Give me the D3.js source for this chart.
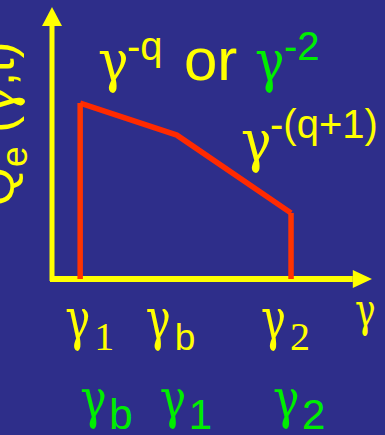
<!DOCTYPE html>
<html>
<head>
<meta charset="utf-8">
<script src="https://cdn.jsdelivr.net/npm/d3@7"></script>
<style>
  html, body { margin: 0; padding: 0; background: #2e2e8a; overflow: hidden; }
  svg { display: block; }
</style>
</head>
<body>
<div id="container"></div>
<script>
/* CONSTANTS AND GLOBALS */
const width = 385,
  height = 435;

const greek = "'DejaVu Serif', serif",
  serif = "'Liberation Serif', 'Times New Roman', serif",
  sans = "'Liberation Sans', Arial, sans-serif";

const YELLOW = "#ffff00",
  GREEN = "#00ee00",
  RED = "#ff2a00";

/* DATA */
// break energies of the electron spectrum (arbitrary units)
const breakNames = ["γ1", "γb", "γ2"];
const breakGamma = [8.8, 39, 74.7];
// injected spectrum Q_e at the breaks
const spectrumQ = [64.7, 52.9, 24.3];

// tick label rows: yellow = gamma1 < gammab, green = gammab < gamma1
const yellowSubs = ["1", "b", "2"];
const greenSubs = ["b", "1", "2"];

const spectrum = breakNames.map((n, i) => ({ name: n, g: breakGamma[i], q: spectrumQ[i] }));

// SCALES
const xScale = d3.scaleLinear().domain([0, 100]).range([52, 372]);
const yScale = d3.scaleLinear().domain([0, 100]).range([279, 7]);

// CREATE SVG ELEMENT
const svg = d3.select("#container")
  .append("svg")
  .attr("width", width)
  .attr("height", height)
  .style("background-color", "#2e2e8a");

// AXES (plain arrows, no ticks)
const axes = svg.append("g");
axes.append("line")
  .attr("x1", xScale(0) - 2).attr("x2", xScale(94))
  .attr("y1", yScale(0)).attr("y2", yScale(0))
  .attr("stroke", YELLOW).attr("stroke-width", 6);
axes.append("path")
  .attr("d", `M${xScale(94)},${yScale(0) - 9} L${xScale(100)},${yScale(0)} L${xScale(94)},${yScale(0) + 9}Z`)
  .attr("fill", YELLOW);

axes.append("line")
  .attr("x1", xScale(0)).attr("x2", xScale(0))
  .attr("y1", yScale(0) + 2).attr("y2", yScale(93))
  .attr("stroke", YELLOW).attr("stroke-width", 5);
axes.append("path")
  .attr("d", `M${xScale(0) - 10},${yScale(93)} L${xScale(0)},${yScale(100)} L${xScale(0) + 10},${yScale(93)}Z`)
  .attr("fill", YELLOW);

// DRAW SPECTRUM
const drawLine = d3.line()
  .x(d => xScale(d.g))
  .y(d => yScale(d.q));

svg.append("path")
  .datum(spectrum)
  .attr("fill", "none")
  .attr("stroke", RED)
  .attr("stroke-width", 5.5)
  .attr("d", drawLine);

// cut-offs at gamma1 and gamma2
svg.selectAll(".cutoff")
  .data([spectrum[0], spectrum[spectrum.length - 1]])
  .join("line")
  .attr("class", "cutoff")
  .attr("x1", d => xScale(d.g)).attr("x2", d => xScale(d.g))
  .attr("y1", yScale(0)).attr("y2", d => yScale(d.q))
  .attr("stroke", "#ff3300")
  .attr("stroke-width", 5.5);

// a narrowed gamma glyph (the original uses a condensed Symbol-like gamma)
function gamma(g, x, y, color, size, sx) {
  return g.append("text")
    .attr("transform", `translate(${x},${y}) scale(${sx},1)`)
    .attr("fill", color)
    .attr("font-family", greek).attr("font-size", size)
    .text("γ");
}

// helper: gamma followed by a sub/superscript
function gammaLabel(g, x, y, color, gSize, sx, txt, tSize, tFont, dy) {
  gamma(g, x - 2, y, color, gSize, sx);
  g.append("text")
    .attr("x", x + 27).attr("y", y + dy)
    .attr("fill", color)
    .attr("font-family", tFont).attr("font-size", tSize)
    .text(txt);
}

// TICK LABELS
const ticks = svg.append("g");
const yellowDx = [-13, -29, -28];
yellowSubs.forEach((s, i) => {
  gammaLabel(ticks, xScale(breakGamma[i]) + yellowDx[i], 339, YELLOW, 58, 0.72, s,
    s === "b" ? 37 : 40, s === "b" ? sans : serif, 11);
});
const greenDx = [2, -15, -16];
greenSubs.forEach((s, i) => {
  gammaLabel(ticks, xScale(breakGamma[i]) + greenDx[i], 418, GREEN, 54, 0.82, s, 42, sans, 11);
});

// axis titles
gamma(svg, 355, 326, YELLOW, 46, 0.75);

const yTitle = svg.append("text")
  .attr("transform", "translate(14,206) rotate(-90)")
  .attr("fill", YELLOW)
  .attr("font-family", sans).attr("font-size", 50);
yTitle.append("tspan").text("Q");
yTitle.append("tspan").attr("font-size", 37).attr("dy", 13).text("e");
yTitle.append("tspan").attr("dy", -13).text(" (");
yTitle.append("tspan").attr("font-family", greek).text("γ");
yTitle.append("tspan").text(",t)");

// SLOPE ANNOTATIONS
const notes = svg.append("g");
gammaLabel(notes, 100, 81, YELLOW, 58, 0.88, "-q", 40, sans, -21);
notes.append("text")
  .attr("x", 184).attr("y", 80)
  .attr("fill", YELLOW)
  .attr("font-family", sans).attr("font-size", 60)
  .text("or");
gammaLabel(notes, 257, 81, GREEN, 58, 0.85, "-2", 40, sans, -21);
gammaLabel(notes, 243, 161, YELLOW, 58, 0.88, "-(q+1)", 40, sans, -23);
</script>
</body>
</html>
